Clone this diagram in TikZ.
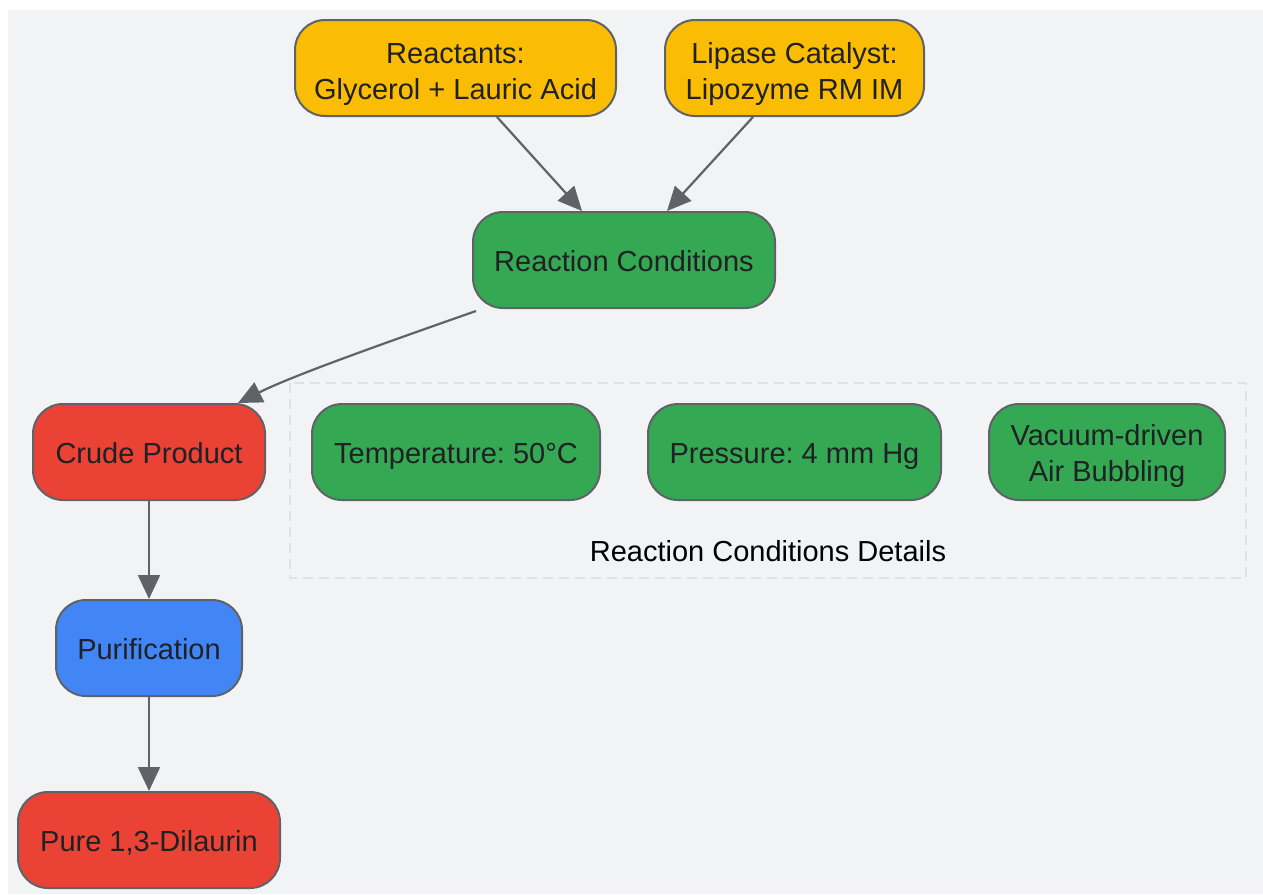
\documentclass[tikz,border=0pt]{standalone}
\usepackage{fontspec}
\setmainfont{Liberation Sans}
\usetikzlibrary{arrows.meta}
\definecolor{hatter}{HTML}{F1F3F5}
\definecolor{keret}{HTML}{5F6368}
\definecolor{szoveg}{HTML}{202124}
\definecolor{sarga}{HTML}{FBBC04}
\definecolor{zold}{HTML}{34A853}
\definecolor{piros}{HTML}{EA4335}
\definecolor{kek}{HTML}{4285F4}
\definecolor{szaggatott}{HTML}{DFE1E4}
\frenchspacing

\begin{document}
\begin{tikzpicture}[x=1pt,y=-1pt,>={Triangle[length=24pt,width=22pt]},
stage/.style={rectangle,rounded corners=30pt,draw=keret,line width=2pt,
 minimum height=96pt,inner sep=0pt,text=szoveg,align=center,
 font=\fontsize{29}{36}\selectfont},
oneline/.style={text height=23pt,text depth=0pt}]

\useasboundingbox (0,0) rectangle (1263,894);
\fill[hatter] (8,10) rectangle (1263,894);

\pgfmathsetmacro{\sor}{452}

% details frame
\draw[szaggatott,line width=2pt,dash pattern=on 10pt off 6pt] (290,383) rectangle (1246,578);
\node[font=\fontsize{29}{36}\selectfont,oneline](details) at (768,550){Reaction Conditions Details};

\node[stage,fill=sarga,minimum width=321pt](reactants) at (455.5,68){\rule{0pt}{33pt}Reactants:\\Glycerol + Lauric Acid};
\node[stage,fill=sarga,minimum width=259pt](lipase) at (794.5,68){\rule{0pt}{33pt}Lipase Catalyst:\\Lipozyme RM IM};

\node[stage,oneline,fill=zold,minimum width=302pt](conditions) at (624,260){Reaction Conditions};

\node[stage,oneline,fill=piros,minimum width=232pt](crude) at (149,\sor){Crude Product};
\node[stage,oneline,fill=zold,minimum width=288pt](temp) at (456,\sor){Temperature: 50°C};
\node[stage,oneline,fill=zold,minimum width=293pt](press) at (794.5,\sor){Pressure: 4 mm Hg};
\node[stage,fill=zold,minimum width=236pt](vacuum) at (1107,\sor){\rule{0pt}{29pt}Vacuum-driven\\Air Bubbling};

\node[stage,oneline,fill=kek,minimum width=186pt](purif) at (149,648){Purification};
\node[stage,oneline,fill=piros,minimum width=262pt](pure) at (149,840){Pure 1,3-Dilaurin};

\begin{scope}[->, draw=keret, line width=2.2pt]
\draw ([xshift=41.5pt]reactants.south)--([xshift=-42pt]conditions.north);
\draw ([xshift=-41.5pt]lipase.south)--([xshift=43pt]conditions.north);
\draw ([xshift=-148pt,yshift=-2pt]conditions.south) .. controls +(-120,42) and +(50,-25) .. ([xshift=89pt]crude.north);
\draw (crude)--(purif);
\draw (purif)--(pure);
\end{scope}
\end{tikzpicture}
\end{document}
